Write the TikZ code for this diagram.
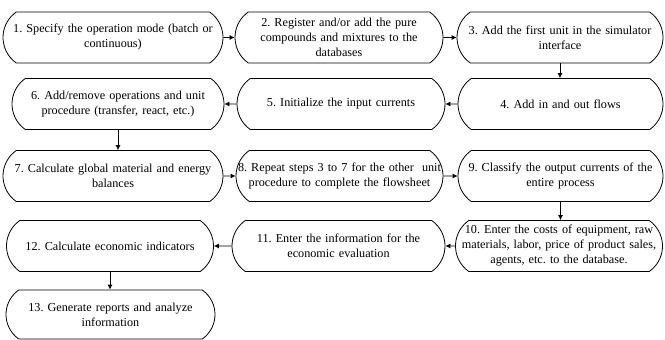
\documentclass[tikz,border=0pt]{standalone}
\usepackage{fontspec}
\setmainfont{Liberation Serif}
\usetikzlibrary{arrows.meta,shapes.misc}
\newcommand{\ctr}[1]{\makebox[0pt]{#1}}
\frenchspacing

\begin{document}
\begin{tikzpicture}[x=1pt,y=-1pt,
      stage/.style={rounded rectangle,rounded rectangle arc length=110,draw=black,line width=0.8pt,minimum height=51pt,inner sep=0pt,text width=1pt,align=center,font=\fontsize{12.2}{15}\selectfont},
      flow/.style={-{Latex[length=5pt,width=5pt]},line width=0.8pt}]
    \useasboundingbox (0,0) rectangle (665,340);
    \node[stage,minimum width=220pt] (S1) at (113,37.5) {\ctr{1. Specify the operation mode (batch or}\\\ctr{continuous)}};
    \node[stage,minimum width=208pt] (S2) at (339,37.5) {\ctr{2. Register and/or add the pure}\\\ctr{compounds and mixtures to the}\\\ctr{databases}};
    \node[stage,minimum width=206pt] (S3) at (560,37.5) {\ctr{3. Add the first unit in the simulator}\\\ctr{interface}};
    \node[stage,minimum width=205pt] (S4) at (560.5,104) {\ctr{4. Add in and out flows}};
    \node[stage,minimum width=208pt] (S5) at (341,104) {\ctr{5. Initialize the input currents}};
    \node[stage,minimum width=212pt] (S6) at (118,104) {\ctr{6. Add/remove operations and unit}\\\ctr{procedure (transfer, react, etc.)}};
    \node[stage,minimum width=220pt] (S7) at (113,176) {\ctr{7. Calculate global material and energy}\\\ctr{balances}};
    \node[stage,minimum width=207pt] (S8) at (339.5,176) {\ctr{8. Repeat steps 3 to 7 for the other\ \ unit}\\\ctr{procedure to complete the flowsheet}};
    \node[stage,minimum width=205pt] (S9) at (560.5,176) {\ctr{9. Classify the output currents of the}\\\ctr{entire process}};
    \node[stage,minimum width=207pt] (S10) at (559,246) {\ctr{10. Enter the costs of equipment, raw}\\\ctr{materials, labor, price of product sales,}\\\ctr{agents, etc. to the database.}};
    \node[stage,minimum width=213pt] (S11) at (338.5,246) {\ctr{11. Enter the information for the}\\\ctr{economic evaluation}};
    \node[stage,minimum width=207pt] (S12) at (110,246) {\ctr{12. Calculate economic indicators}};
    \node[stage,minimum width=209pt,minimum height=49pt] (S13) at (110.5,314.5) {\ctr{13. Generate reports and analyze}\\\ctr{information}};
    \draw[flow] (S1) -- (S2);
    \draw[flow] (S2) -- (S3);
    \draw[flow] (S3.south) -- (S3.south |- S4.north);
    \draw[flow] (S4) -- (S5);
    \draw[flow] (S5) -- (S6);
    \draw[flow] (S6.south) -- (S6.south |- S7.north);
    \draw[flow] (S7) -- (S8);
    \draw[flow] (S8) -- (S9);
    \draw[flow] (S9.south) -- (S9.south |- S10.north);
    \draw[flow] (S10) -- (S11);
    \draw[flow] (S11) -- (S12);
    \draw[flow] (S12.south) -- (S12.south |- S13.north);
  \end{tikzpicture}
\end{document}
